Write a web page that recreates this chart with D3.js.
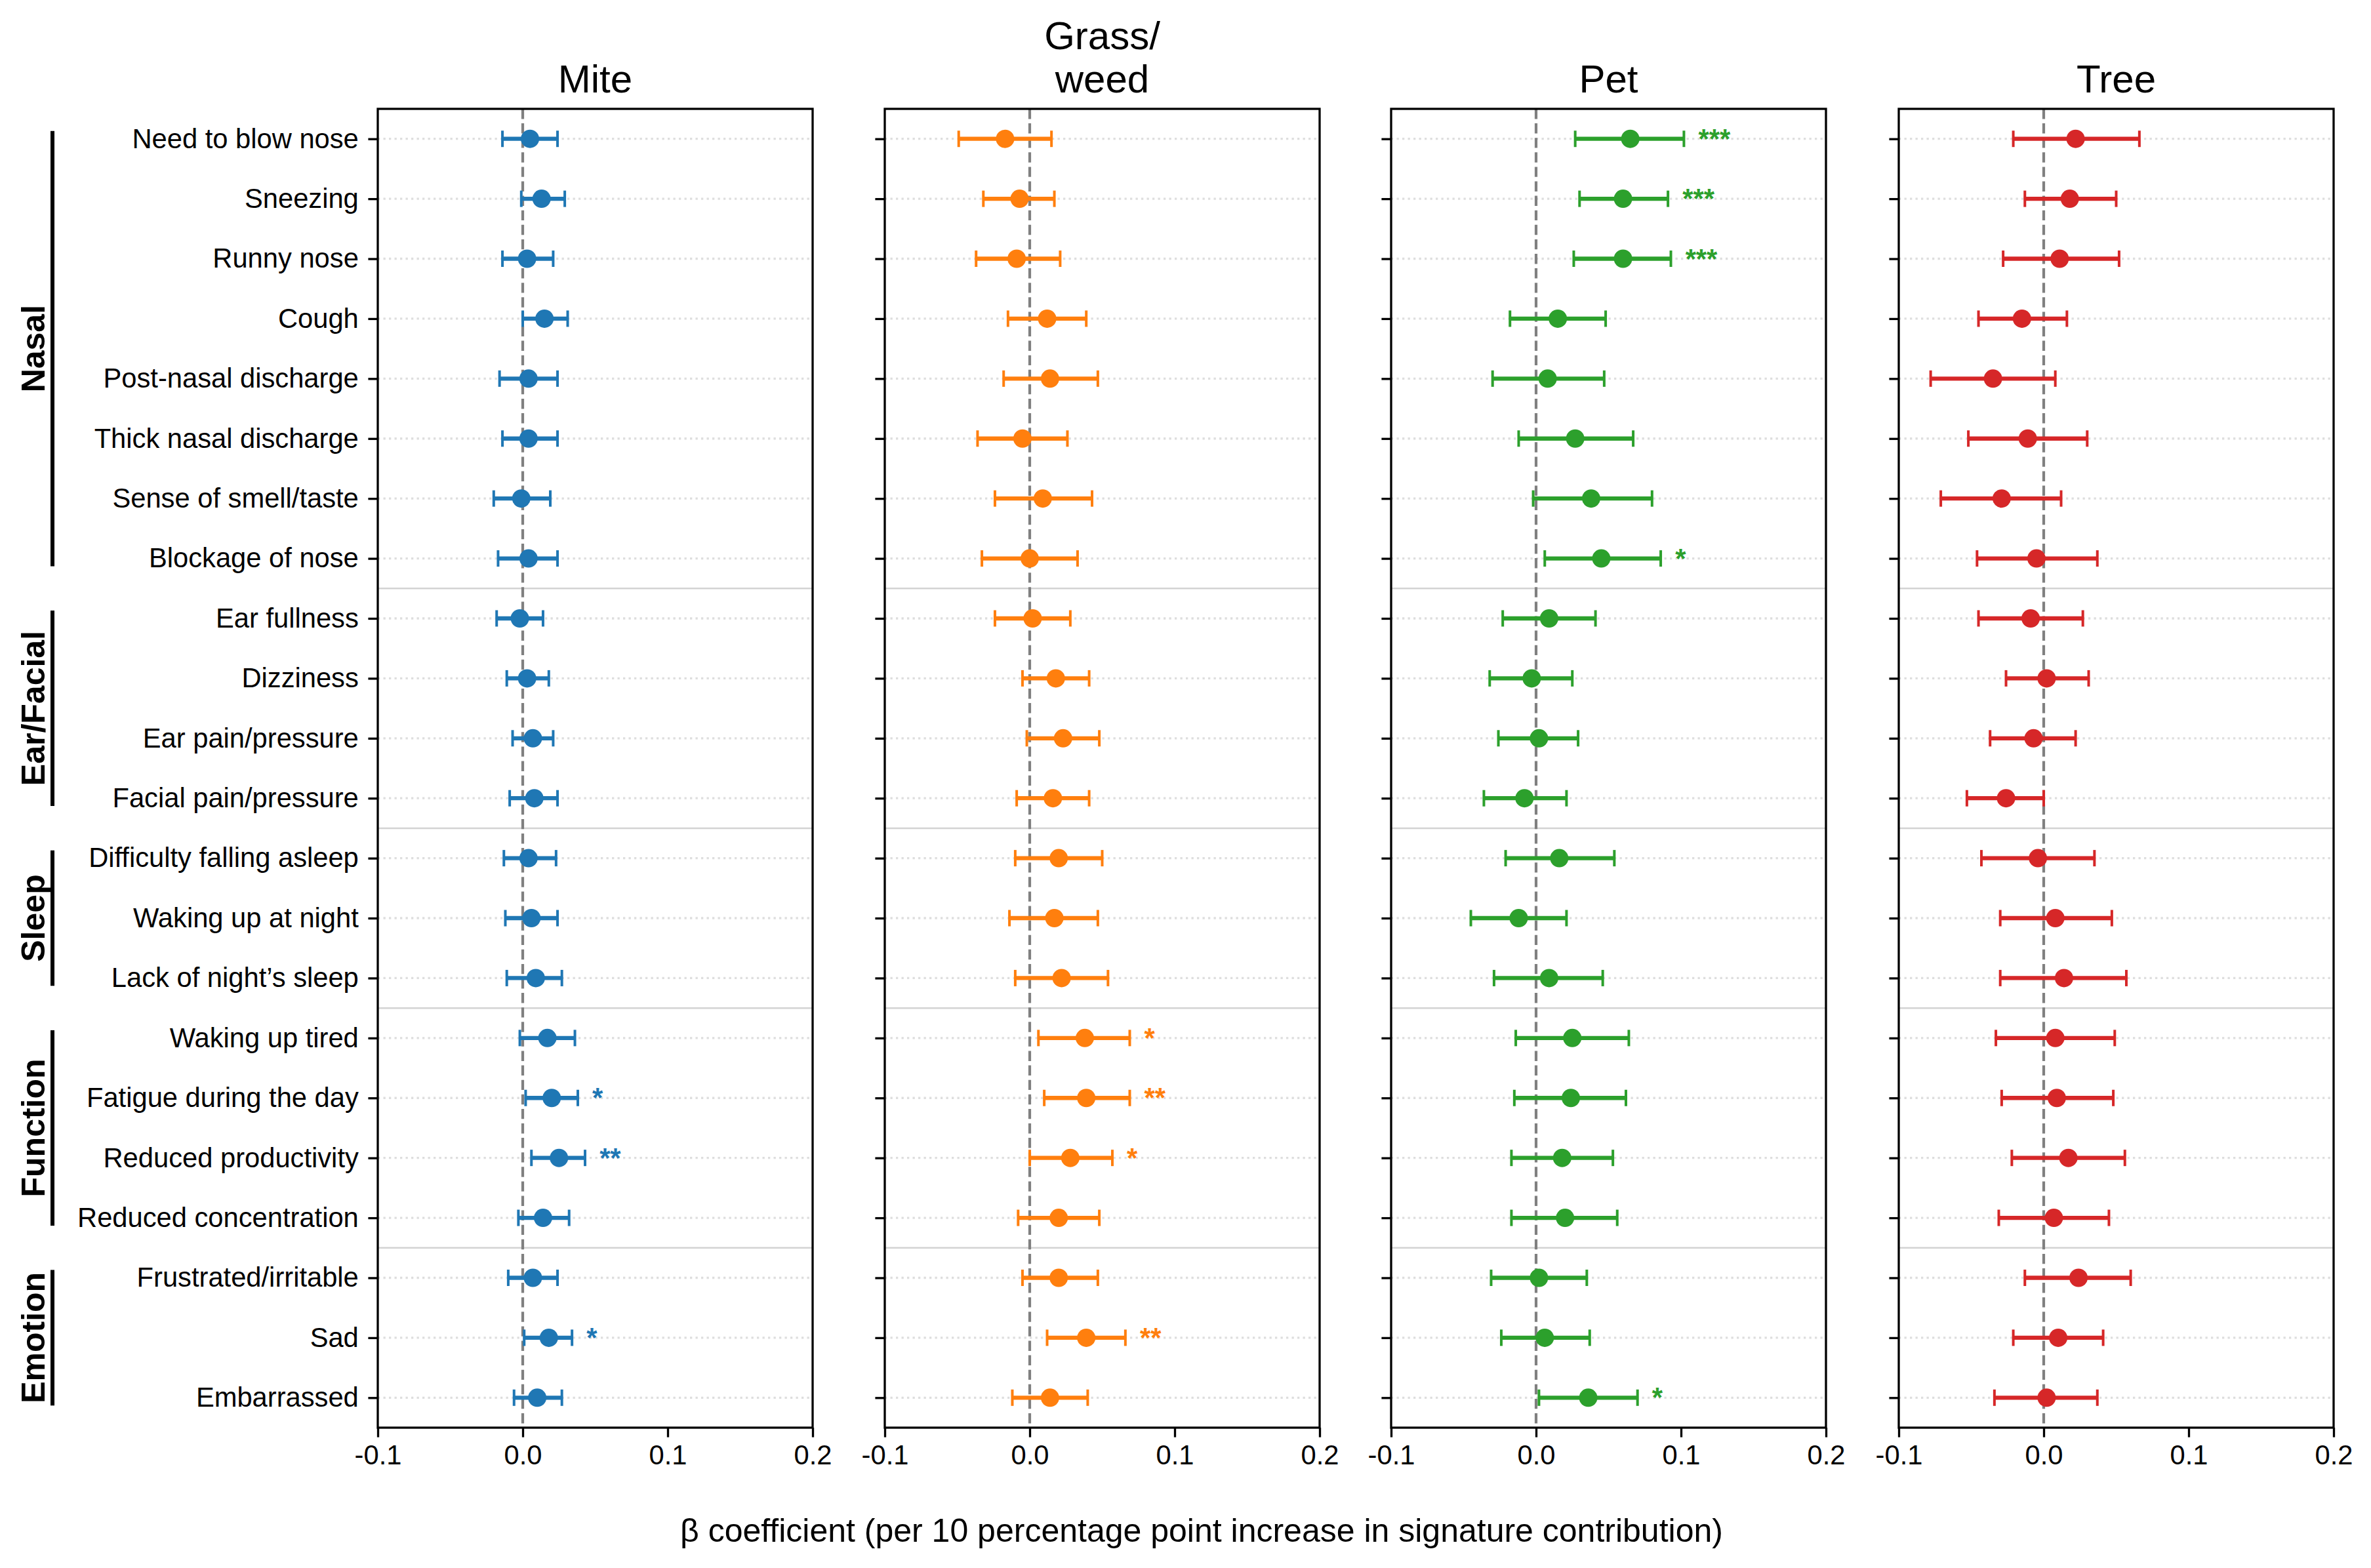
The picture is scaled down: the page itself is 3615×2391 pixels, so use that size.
<!DOCTYPE html>
<html>
<head>
<meta charset="utf-8">
<script src="https://cdnjs.cloudflare.com/ajax/libs/d3/7.8.5/d3.min.js"></script>
<style>
  body { margin: 0; background: #fff; }
  text { font-family: "Liberation Sans", Arial, sans-serif; }
</style>
</head>
<body>
<div class="forest"></div>
<script>
const symptoms = ["Need to blow nose", "Sneezing", "Runny nose", "Cough", "Post-nasal discharge",
  "Thick nasal discharge", "Sense of smell/taste", "Blockage of nose", "Ear fullness", "Dizziness",
  "Ear pain/pressure", "Facial pain/pressure", "Difficulty falling asleep", "Waking up at night",
  "Lack of night\u2019s sleep", "Waking up tired", "Fatigue during the day", "Reduced productivity",
  "Reduced concentration", "Frustrated/irritable", "Sad", "Embarrassed"];

const groupNames = ["Nasal", "Ear/Facial", "Sleep", "Function", "Emotion"];
const groupFirst = ["Need to blow nose", "Ear fullness", "Difficulty falling asleep", "Waking up tired", "Frustrated/irritable"];
const groupLast = ["Blockage of nose", "Facial pain/pressure", "Lack of night\u2019s sleep", "Reduced concentration", "Embarrassed"];

const allergens = ["Mite", "Grass/\nweed", "Pet", "Tree"];
const xTicks = [-0.1, 0.0, 0.1, 0.2];

const miteEst = [0.005, 0.013, 0.003, 0.015, 0.004, 0.004, -0.001, 0.004, -0.002, 0.003, 0.007, 0.008, 0.004, 0.006, 0.009, 0.017, 0.020, 0.025, 0.014, 0.007, 0.018, 0.010];
const miteLo = [-0.014, -0.001, -0.014, 0.000, -0.016, -0.014, -0.020, -0.017, -0.018, -0.011, -0.007, -0.009, -0.013, -0.012, -0.011, -0.002, 0.002, 0.006, -0.003, -0.010, 0.001, -0.006];
const miteHi = [0.024, 0.029, 0.021, 0.031, 0.024, 0.024, 0.019, 0.024, 0.014, 0.018, 0.021, 0.024, 0.023, 0.024, 0.027, 0.036, 0.038, 0.043, 0.032, 0.024, 0.034, 0.027];
const miteSig = ["", "", "", "", "", "", "", "", "", "", "", "", "", "", "", "", "*", "**", "", "", "*", ""];

const grassEst = [-0.017, -0.007, -0.009, 0.012, 0.014, -0.005, 0.009, 0.000, 0.002, 0.018, 0.023, 0.016, 0.020, 0.017, 0.022, 0.038, 0.039, 0.028, 0.020, 0.020, 0.039, 0.014];
const grassLo = [-0.049, -0.032, -0.037, -0.015, -0.018, -0.036, -0.024, -0.033, -0.024, -0.005, -0.002, -0.009, -0.010, -0.014, -0.010, 0.006, 0.010, 0.000, -0.008, -0.005, 0.012, -0.012];
const grassHi = [0.015, 0.017, 0.021, 0.039, 0.047, 0.026, 0.043, 0.033, 0.028, 0.041, 0.048, 0.041, 0.050, 0.047, 0.054, 0.069, 0.069, 0.057, 0.048, 0.047, 0.066, 0.040];
const grassSig = ["", "", "", "", "", "", "", "", "", "", "", "", "", "", "", "*", "**", "*", "", "", "**", ""];

const petEst = [0.065, 0.060, 0.060, 0.015, 0.008, 0.027, 0.038, 0.045, 0.009, -0.003, 0.002, -0.008, 0.016, -0.012, 0.009, 0.025, 0.024, 0.018, 0.020, 0.002, 0.006, 0.036];
const petLo = [0.027, 0.030, 0.026, -0.018, -0.030, -0.012, -0.002, 0.006, -0.023, -0.032, -0.026, -0.036, -0.021, -0.045, -0.029, -0.014, -0.015, -0.017, -0.017, -0.031, -0.024, 0.002];
const petHi = [0.102, 0.091, 0.093, 0.048, 0.047, 0.067, 0.080, 0.086, 0.041, 0.025, 0.029, 0.021, 0.054, 0.021, 0.046, 0.064, 0.062, 0.053, 0.056, 0.035, 0.037, 0.070];
const petSig = ["***", "***", "***", "", "", "", "", "*", "", "", "", "", "", "", "", "", "", "", "", "", "", "*"];

const treeEst = [0.022, 0.018, 0.011, -0.015, -0.035, -0.011, -0.029, -0.005, -0.009, 0.002, -0.007, -0.026, -0.004, 0.008, 0.014, 0.008, 0.009, 0.017, 0.007, 0.024, 0.010, 0.002];
const treeLo = [-0.021, -0.013, -0.028, -0.045, -0.078, -0.052, -0.071, -0.046, -0.045, -0.026, -0.037, -0.053, -0.043, -0.030, -0.030, -0.033, -0.029, -0.022, -0.031, -0.013, -0.021, -0.034];
const treeHi = [0.066, 0.050, 0.052, 0.016, 0.008, 0.030, 0.012, 0.037, 0.027, 0.031, 0.022, 0.000, 0.035, 0.047, 0.057, 0.049, 0.048, 0.056, 0.045, 0.060, 0.041, 0.037];
const treeSig = ["", "", "", "", "", "", "", "", "", "", "", "", "", "", "", "", "", "", "", "", "", ""];

const colors = ["#1f77b4", "#ff7f0e", "#2ca02c", "#d62728"];

const series = [
  { est: miteEst, lo: miteLo, hi: miteHi, sig: miteSig },
  { est: grassEst, lo: grassLo, hi: grassHi, sig: grassSig },
  { est: petEst, lo: petLo, hi: petHi, sig: petSig },
  { est: treeEst, lo: treeLo, hi: treeHi, sig: treeSig }
];

const W = 3615, H = 2391;
const plotTop = 166, plotBottom = 2177;
const panelLeft = [576, 1349, 2121, 2895];
const panelW = 663;
const tick = 14.6;

const svg = d3.select(".forest")
  .append("svg")
  .attr("width", W)
  .attr("height", H);

const y = d3.scalePoint()
  .domain(symptoms)
  .range([plotTop, plotBottom])
  .padding(0.5);
const step = y.step();

allergens.forEach((name, p) => {
  const s = series[p];
  const col = colors[p];
  const x = d3.scaleLinear()
    .domain([-0.1, 0.2])
    .range([panelLeft[p], panelLeft[p] + panelW]);
  const g = svg.append("g");

  // dotted row grid
  g.selectAll(".grid")
    .data(symptoms)
    .join("line")
    .attr("x1", x.range()[0]).attr("x2", x.range()[1])
    .attr("y1", d => y(d)).attr("y2", d => y(d))
    .attr("stroke", "#dedede")
    .attr("stroke-width", 3.3)
    .attr("stroke-dasharray", "3.3,5.2");

  // group separators
  g.selectAll(".sep")
    .data(groupLast.slice(0, -1))
    .join("line")
    .attr("x1", x.range()[0]).attr("x2", x.range()[1])
    .attr("y1", d => y(d) + step / 2).attr("y2", d => y(d) + step / 2)
    .attr("stroke", "#d3d3d3")
    .attr("stroke-width", 2.5);

  // zero reference
  g.append("line")
    .attr("x1", x(0)).attr("x2", x(0))
    .attr("y1", plotTop).attr("y2", plotBottom)
    .attr("stroke", "#808080")
    .attr("stroke-width", 4.2)
    .attr("stroke-dasharray", "15.4,6.7");

  const rows = symptoms.map((d, i) => ({ name: d, est: s.est[i], lo: s.lo[i], hi: s.hi[i], sig: s.sig[i] }));

  // error bars
  g.selectAll(".eb")
    .data(rows)
    .join("line")
    .attr("x1", d => x(d.lo)).attr("x2", d => x(d.hi))
    .attr("y1", d => y(d.name)).attr("y2", d => y(d.name))
    .attr("stroke", col)
    .attr("stroke-width", 6.3);

  ["lo", "hi"].forEach(k => {
    g.selectAll(".cap-" + k)
      .data(rows)
      .join("line")
      .attr("x1", d => x(d[k])).attr("x2", d => x(d[k]))
      .attr("y1", d => y(d.name) - 12.5).attr("y2", d => y(d.name) + 12.5)
      .attr("stroke", col)
      .attr("stroke-width", 4);
  });

  g.selectAll(".pt")
    .data(rows)
    .join("circle")
    .attr("cx", d => x(d.est))
    .attr("cy", d => y(d.name))
    .attr("r", 14)
    .attr("fill", col);

  // significance stars
  g.selectAll(".sig")
    .data(rows.filter(d => d.sig))
    .join("text")
    .attr("x", d => x(d.hi + 0.01))
    .attr("y", d => y(d.name) + 14)
    .attr("fill", col)
    .attr("font-size", "41.7px")
    .attr("font-weight", "bold")
    .text(d => d.sig);

  // frame
  g.append("rect")
    .attr("x", x.range()[0]).attr("y", plotTop)
    .attr("width", panelW).attr("height", plotBottom - plotTop)
    .attr("fill", "none")
    .attr("stroke", "#000")
    .attr("stroke-width", 3.3);

  // axes
  const xAxis = g.append("g")
    .attr("transform", `translate(0,${plotBottom})`)
    .call(d3.axisBottom(x).tickValues(xTicks).tickSize(tick).tickPadding(12).tickFormat(d => d.toFixed(1)));
  const yAxis = g.append("g")
    .attr("transform", `translate(${x.range()[0]},0)`)
    .call(d3.axisLeft(y).tickSize(tick).tickPadding(14.6).tickFormat(p === 0 ? null : () => ""));
  [xAxis, yAxis].forEach(a => {
    a.select(".domain").remove();
    a.selectAll(".tick line").attr("stroke", "#000").attr("stroke-width", 3.3);
    a.selectAll(".tick text")
      .attr("fill", "#000")
      .attr("font-size", "41.7px")
      .attr("font-family", '"Liberation Sans", Arial, sans-serif');
  });

  // title
  const lines = name.split("\n");
  const cx = x.range()[0] + panelW / 2;
  g.append("text")
    .attr("text-anchor", "middle")
    .attr("font-size", "60px")
    .attr("fill", "#000")
    .selectAll("tspan")
    .data(lines)
    .join("tspan")
    .attr("x", cx)
    .attr("y", (d, i) => 141 - (lines.length - 1 - i) * 66)
    .text(d => d);
});

// symptom group brackets and labels
groupNames.forEach((gname, i) => {
  const y0 = y(groupFirst[i]) - 0.13 * step;
  const y1 = y(groupLast[i]) + 0.13 * step;
  svg.append("line")
    .attr("x1", 80).attr("x2", 80)
    .attr("y1", y0).attr("y2", y1)
    .attr("stroke", "#000")
    .attr("stroke-width", 6);
  svg.append("text")
    .attr("transform", `translate(68,${(y(groupFirst[i]) + y(groupLast[i])) / 2}) rotate(-90)`)
    .attr("text-anchor", "middle")
    .attr("font-size", "50px")
    .attr("font-weight", "bold")
    .attr("fill", "#000")
    .text(gname);
});

svg.append("text")
  .attr("x", 1832)
  .attr("y", 2351)
  .attr("text-anchor", "middle")
  .attr("font-size", "50px")
  .attr("fill", "#000")
  .text("\u03b2 coefficient (per 10 percentage point increase in signature contribution)");
</script>
</body>
</html>
